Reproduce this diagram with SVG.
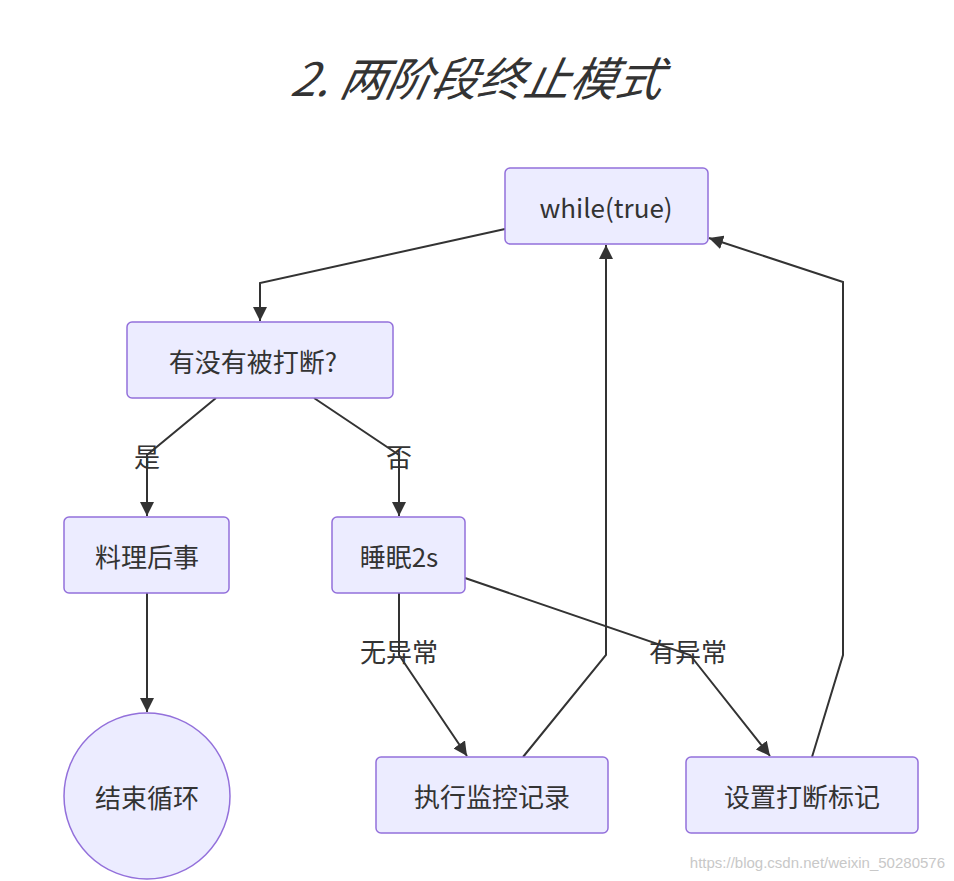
<svg xmlns="http://www.w3.org/2000/svg" width="954" height="881" viewBox="0 0 954 881">
<style>
.node rect,.node circle{fill:#ECECFF;stroke:#9370DB;stroke-width:1.5}
.t{font-family:"Noto Sans CJK SC","Liberation Sans",sans-serif;font-size:26px;fill:#333;text-anchor:middle;dominant-baseline:central}
.lbl{font-family:"Noto Sans CJK SC","Liberation Sans",sans-serif;font-size:26px;fill:#333;text-anchor:middle;dominant-baseline:central}
.edge{fill:none;stroke:#333;stroke-width:2}
</style>
<defs>
<marker id="arr" viewBox="0 0 10 10" refX="10" refY="5" markerWidth="7" markerHeight="7" markerUnits="strokeWidth" orient="auto">
<path d="M0,0 L10,5 L0,10 z" fill="#333"/>
</marker>
</defs>
<rect width="954" height="881" fill="#fff"/>
<text x="479" y="76" font-family="'Noto Sans CJK SC','Liberation Sans',sans-serif" font-size="46" font-style="italic" fill="#333" text-anchor="middle" dominant-baseline="central" transform="skewX(-12) translate(16,0)">2. 两阶段终止模式</text>
<g id="connectors">
<polyline class="edge" points="505,229 260,283 260,321" marker-end="url(#arr)"/>
<polyline class="edge" points="216,398 147,455 147,516" marker-end="url(#arr)"/>
<polyline class="edge" points="314,398 399,455 399,516" marker-end="url(#arr)"/>
<polyline class="edge" points="147,593 147,712" marker-end="url(#arr)"/>
<polyline class="edge" points="399,593 399,655 467,756" marker-end="url(#arr)"/>
<polyline class="edge" points="465,578 690,655 770,756" marker-end="url(#arr)"/>
<polyline class="edge" points="523,757 606,655 606,245" marker-end="url(#arr)"/>
<polyline class="edge" points="812,757 843,655 843,282 709,238" marker-end="url(#arr)"/>
<text class="lbl" x="147" y="455">是</text>
<text class="lbl" x="399" y="455">否</text>
<text class="lbl" x="399" y="650">无异常</text>
<text class="lbl" x="688" y="650">有异常</text>
</g>
<g id="n_while" class="node"><rect x="505" y="168" width="203" height="76" rx="5"/><text class="t" x="606" y="206">while(true)</text></g>
<g id="n_check" class="node"><rect x="127" y="322" width="266" height="76" rx="5"/><text class="t" x="253" y="360">有没有被打断?</text></g>
<g id="n_cleanup" class="node"><rect x="64" y="517" width="165" height="76" rx="5"/><text class="t" x="147" y="555">料理后事</text></g>
<g id="n_sleep" class="node"><rect x="332" y="517" width="133" height="76" rx="5"/><text class="t" x="399" y="555">睡眠2s</text></g>
<g id="n_end" class="node"><circle cx="147" cy="796" r="83"/><text class="t" x="147" y="796">结束循环</text></g>
<g id="n_log" class="node"><rect x="376" y="757" width="232" height="76" rx="5"/><text class="t" x="492" y="795">执行监控记录</text></g>
<g id="n_flag" class="node"><rect x="686" y="757" width="232" height="76" rx="5"/><text class="t" x="802" y="795">设置打断标记</text></g>
<text x="945" y="862" font-family="'Liberation Sans',sans-serif" font-size="15" fill="#c8c8c8" text-anchor="end" dominant-baseline="central">https://blog.csdn.net/weixin_50280576</text>
</svg>
